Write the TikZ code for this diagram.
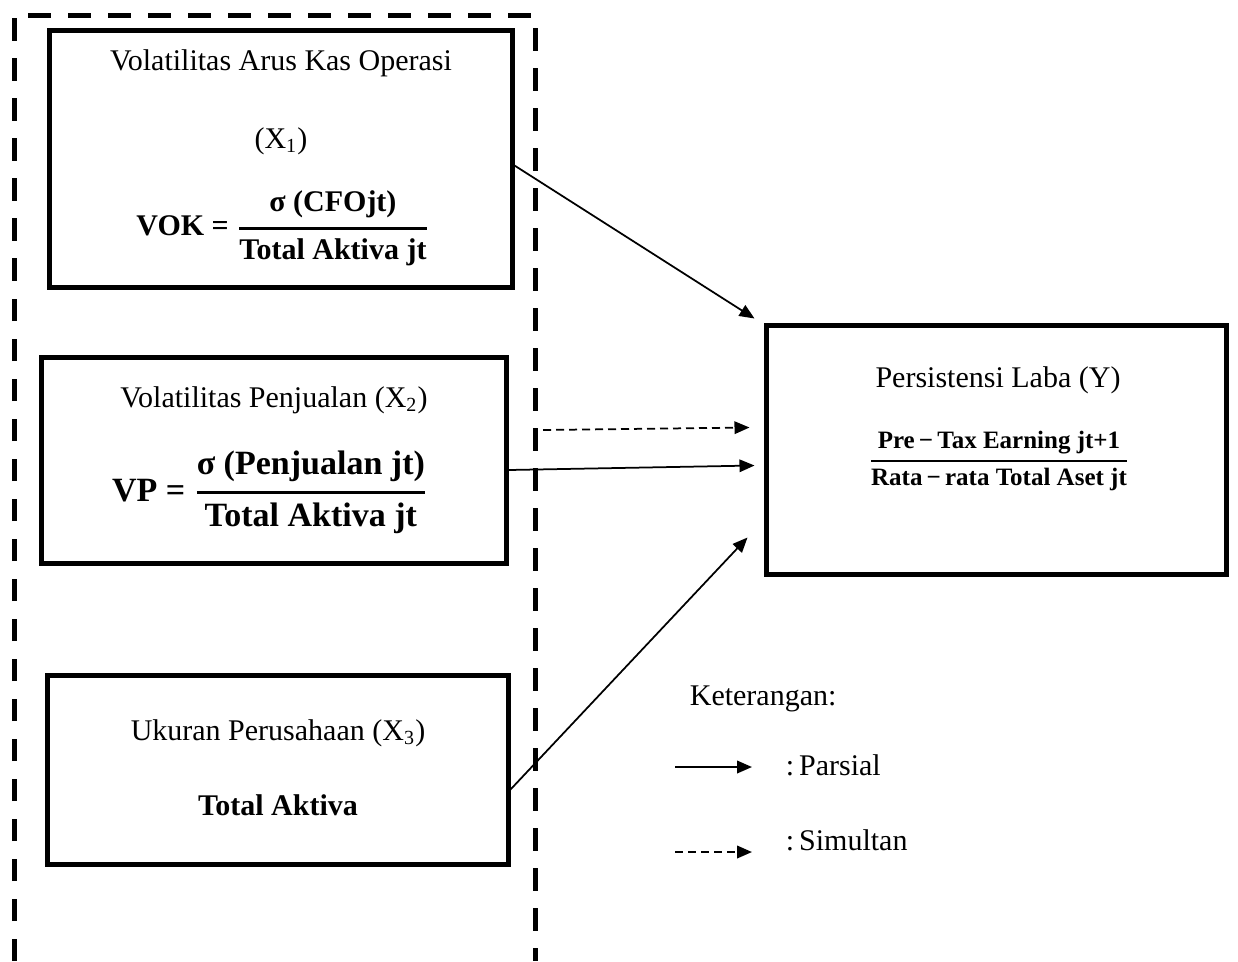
\documentclass[tikz,border=0pt]{standalone}
\usepackage{amsmath}
\usepackage{fontspec}
\setmainfont{Liberation Serif}
\usetikzlibrary{arrows.meta, positioning, calc}

\begin{document}
\begin{tikzpicture}[
    x=0.4pt, y=-0.4pt,
    every node/.style={font=\fontsize{12}{14}\selectfont},
]

% ---------------------------------------------------------------- colours
\definecolor{ink}{HTML}{000000}    % boxes, words, arrows
\definecolor{paper}{HTML}{FFFFFF}

% ================================================================
% Geometry in pixels of the 1238 x 961 sheet, y running downwards.
%
%   left column of three variable boxes, centred near x = 280
%   outer dashed frame x = 14 .. 535, from y = 15 down past the sheet
%   dependent box on the right, x = 766 .. 1226, y = 325 .. 574
%   legend under it, starting at x = 675
% ================================================================

\def\colx{281}

\tikzset{
    varbox/.style={
        draw=ink, line width=2pt, fill=none,
        inner sep=0pt,
    },
    groupline/.style={
        draw=ink, line width=2pt, dash pattern=on 9pt off 7pt,
    },
    txt/.style={anchor=base, text=ink},
    formula/.style={font=\fontsize{12}{14}\selectfont\bfseries, text=ink},
    parsial/.style={draw=ink, line width=0.7pt,
        -{Triangle[length=6pt, width=5pt]}},
    simultan/.style={parsial, dash pattern=on 3.2pt off 2pt},
}

\useasboundingbox[fill=paper] (0,0) rectangle (1238,961);

% ================================================================ dashed frame
\draw[groupline] (14,961) -- (14,15) -- (535,15) -- (535,961);

% ================================================================ X1
\node[varbox, minimum width=184.8pt, minimum height=102.8pt] (xa) at (281,158.5) {};
\node[txt] (xat) at (\colx,70) {Volatilitas Arus Kas Operasi};
\node[txt] (xas) at (\colx,148) {(X\textsubscript{1})};
\node[formula] (xaf) at (283,228)
    {VOK =\ $\genfrac{}{}{1.2pt}{0}{\text{σ (CFOjt)}}{\text{Total Aktiva jt}}$};

% ================================================================ X2
\node[varbox, minimum width=185.6pt, minimum height=82.4pt] (xb) at (274,460) {};
\node[txt] (xbt) at (274,407) {Volatilitas Penjualan (X\textsubscript{2})};
\node[formula, font=\fontsize{13.6}{16}\selectfont\bfseries] (xbf) at (270,492)
    {VP =\ $\genfrac{}{}{1.2pt}{0}{\text{σ (Penjualan jt)}}{\text{Total Aktiva jt}}$};

% ================================================================ X3
\node[varbox, minimum width=184pt, minimum height=75.6pt] (xc) at (278,769.5) {};
\node[txt] (xct) at (278,740) {Ukuran Perusahaan (X\textsubscript{3})};
\node[txt, font=\fontsize{12}{14}\selectfont\bfseries] (xcf) at (278,815) {Total Aktiva};

% ================================================================ Y
\node[varbox, minimum width=184pt, minimum height=99.6pt] (yb) at (996,449.5) {};
\node[txt] (ybt) at (998,387) {Persistensi Laba (Y)};
\node[formula, font=\fontsize{10}{12}\selectfont\bfseries] (ybf) at (999,461)
    {$\genfrac{}{}{0.8pt}{0}{\text{Pre\,−\,Tax Earning jt+1}}{\text{Rata\,−\,rata Total Aset jt}}$};

% ================================================================ arrows
\coordinate (ina) at ($(yb.west)+(-9,-131)$);
\coordinate (ind) at ($(yb.west)+(-14,-22)$);
\coordinate (inb) at ($(yb.west)+(-9,16)$);
\coordinate (inc) at ($(yb.west)+(-16,88)$);
\coordinate (simstart) at (543,430);

\draw[parsial]  ($(xa.east)+(0,7)$)  -- (ina);
\draw[simultan] (simstart)           -- (ind);
\draw[parsial]  ($(xb.east)+(0,10)$) -- (inb);
\draw[parsial]  ($(xc.east)+(0,20)$) -- (inc);

% ================================================================ legend
\node[txt, anchor=base west] (ket) at (681,705) {Keterangan:};

\coordinate (lpa) at (675,767);
\coordinate (lpb) at (752,767);
\draw[parsial, line width=0.9pt] (lpa) -- (lpb);
\node[anchor=west, text=ink] (lpt) at (777,765) {:\,Parsial};

\coordinate (lsa) at (675,852);
\coordinate (lsb) at (752,852);
\draw[simultan, line width=0.9pt] (lsa) -- (lsb);
\node[anchor=west, text=ink] (lst) at (777,840) {:\,Simultan};

\end{tikzpicture}
\end{document}
